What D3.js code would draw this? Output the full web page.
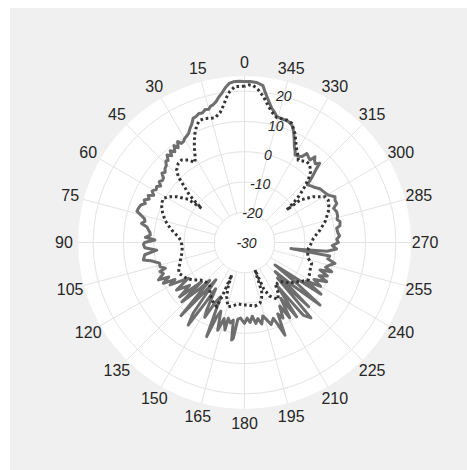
<!DOCTYPE html>
<html>
<head>
<meta charset="utf-8">
<script src="https://cdnjs.cloudflare.com/ajax/libs/d3/7.8.5/d3.min.js"></script>
<style>
  html, body { margin: 0; padding: 0; background: #ffffff; }
  svg { display: block; }
</style>
</head>
<body>
<svg id="chart" width="467" height="470"></svg>
<script>
// Angular tick labels (degrees, counter-clockwise from the top)
const thetaTicks = d3.range(0, 360, 15);
// Radial tick labels (dB)
const rTicks = [-30, -20, -10, 0, 10, 20];
const rLimits = [-30, 25];

// Measured pattern: angle in degrees and gain in dB
const measuredAngle = [
  0, 2, 4, 5.5, 7, 8.5, 10, 11.5, 13, 14, 15, 16.5, 18, 19.5, 21, 22.5, 24, 25.5, 27, 28.5, 30,
  31, 32.5, 33.5, 35, 36, 37.5, 39, 40, 41.5, 43, 44, 45.5, 47, 48.5, 50, 51.5, 53, 54.5, 56, 57.5, 59, 60,
  61, 62.5, 64, 65.5, 67, 68.5, 70, 72, 73.8, 75, 76.5, 78, 79.5, 81, 82.5, 84, 85.5, 87, 88.4, 90,
  91, 93, 95, 97, 99.8, 101, 103.6, 106, 108, 109, 111, 113.5, 114.5, 116.7, 118, 119.7, 122.5,
  125, 128, 130, 132.5, 133.5, 136, 137.5, 139, 141, 142.5, 144, 145.7, 147, 148, 150.8, 152, 154, 156.3, 158.1,
  159.5, 161, 163, 165, 167.4, 167.9, 170, 171.8, 172.5, 173.3, 175, 177, 180,
  182, 184, 186, 188, 190, 192, 194, 196, 198, 200.8, 202, 203.6, 205, 207, 209, 211, 213, 215, 217, 219,
  221.4, 223, 225, 226.5, 228, 230.4, 232, 233.6, 236, 238, 240,
  242, 244.5, 246, 248, 250, 251.5, 253, 255, 257, 259, 261, 262.5, 264, 266, 268, 270,
  272, 274, 276, 278.8, 280, 282.3, 284, 286, 288.5, 291, 292.9, 295, 296.8, 299.5, 301,
  303, 305.5, 308, 310, 312.5, 314, 315.8, 316.5, 318, 319.5, 320.6, 321.6, 323, 325, 326.3, 328, 330,
  331, 332.5, 334.5, 336.5, 338, 340, 343, 345.6, 347, 348.5, 350.5, 352.3, 353.3, 355.6, 358, 360
];
const measuredGain = [
  23.2, 23.3, 23.2, 22.8, 21.6, 20.0, 18.8, 17.4, 16.6, 16.4, 15.6, 15.8, 15.0, 15.2, 14.6, 14.4, 12.8, 11.8, 10.6, 10.0, 9.6,
  9.0, 8.8, 10.0, 8.2, 9.6, 7.8, 9.0, 7.4, 8.6, 7.0, 7.4, 6.2, 5.9, 5.0, 5.6, 4.2, 4.0, 4.6, 3.4, 4.4, 4.0, 4.6,
  4.9, 3.8, 5.4, 4.6, 6.0, 5.2, 6.4, 6.8, 7.0, 5.6, 4.0, 3.6, 4.6, 2.6, 2.0, 1.4, 1.2, 2.8, -0.4, 3.0,
  3.4, 3.0, -0.9, 3.2, 3.9, 1.5, -1.1, -1.0, -2.5, -0.5, -1.3, 1.0, -2.5, 0.0, -4.0, -1.7, -8.0,
  -2.6, -7.0, -2.0, -10.8, -1.5, -9.0, -13.0, 2.0, -9.0, -14.5, -1.1, 3.0, -6.0, -12.0, -4.4, -2.0, -8.0, -10.4, 3.5,
  -3.8, -6.0, 0.3, -4.0, -0.4, -4.4, -3.0, -4.1, 2.5, 1.9, -4.5, -5.0, -3.3,
  -5.0, -3.5, -5.5, -3.0, -4.5, -2.5, -5.0, -3.5, -1.5, -3.2, -1.0, 3.4, -4.0, -2.0, -6.0, -1.0, -8.0, 0.0, -12.0, 1.0,
  3.2, -14.0, 0.0, -16.0, -10.0, 2.4, -8.0, -17.5, 0.5, -6.0, -1.0,
  -4.0, 0.1, -3.0, -0.5, -3.5, 0.4, -2.0, -1.0, 0.7, -2.0, -1.5, -14.5, -2.6, 0.5, -1.0, 1.0,
  0.5, 1.5, 1.0, 0.8, 2.0, 2.3, 1.5, 2.0, 2.1, 1.5, 3.1, 3.0, 3.5, 1.8, 1.4,
  1.0, 0.6, -0.5, -1.0, -1.8, 1.0, 4.2, 6.1, 5.0, 5.6, 6.7, 4.8, 5.2, 5.9, 4.1, 3.6, 3.4,
  4.5, 5.7, 8.1, 10.5, 11.8, 12.5, 12.7, 12.9, 14.2, 15.2, 17.7, 20.3, 22.2, 23.0, 23.2, 23.2
];

// Simulated pattern: angle in degrees and gain in dB
const simulatedAngle = [
  0, 3.5, 5.5, 7, 8.9, 10.7, 13.4, 15.5, 17.6, 20, 22.1, 24.4, 26.5, 28, 29.5, 31.7, 34.3, 37.3, 39.9,
  43.1, 45.2, 46.8, 48.8, 50.3, 51.4, 52.5, 55.9, 58.5, 61.4, 64, 66.6, 70, 74.2, 77, 80.3, 85, 88,
  92.3, 96, 99.8, 104, 107.9, 111, 115, 117.4, 121.8, 126.2, 130.1, 133, 136.8, 140, 142, 145.8, 150.3,
  153, 156.6, 157.6, 158.5, 159.6, 161.8, 163.7, 165.8, 170, 174.2, 178, 183.5, 189.3, 194.3, 197,
  199.3, 200.9, 202.5, 205, 210.4, 213.6, 216.8, 219, 222.2, 225.9, 228.1, 232.2, 234.8, 239.6, 243,
  247.2, 252.8, 256, 260, 264.8, 269, 273.5, 279.4, 284.5, 290.2, 294, 296.9, 299.6, 303.7, 305.5,
  307.4, 307.6, 309.5, 311, 313, 315, 317, 320, 322.4, 326.9, 328, 330.6, 335.2, 338.4, 341, 345.5,
  348.3, 350.9, 352.6, 354.8, 356.8, 358.4, 360
];
const simulatedGain = [
  21.6, 21.6, 20.2, 18.4, 15.6, 13.6, 12.3, 12.6, 13.0, 13.0, 11.9, 9.6, 7.2, 5.2, 3.2, 1.1, 3.0, 4.3, 4.1,
  2.8, 0.8, -2.3, -5.3, -8.5, -11.9, -6.5, -3.0, -1.0, 0.5, 0.3, -0.2, -1.2, -2.7, -4.0, -5.6, -8.0, -8.9,
  -9.3, -9.3, -9.0, -8.3, -7.6, -6.8, -6.0, -6.6, -7.5, -9.0, -10.8, -11.5, -11.8, -11.7, -11.5, -9.7, -8.3,
  -7.5, -6.9, -11.5, -18.5, -14.5, -11.2, -9.6, -8.1, -8.8, -9.6, -9.4, -9.3, -8.7, -9.3, -10.7,
  -12.8, -20.3, -13.5, -10.5, -8.2, -9.8, -13.2, -12.6, -12.5, -11.4, -9.8, -8.9, -7.5, -5.6, -6.0,
  -6.5, -6.8, -8.3, -8.8, -8.8, -8.0, -7.2, -4.7, -2.5, -0.5, 0.5, 1.0, 0.6, -2.7, -5.0,
  -6.9, -12.4, -8.0, -5.5, -2.6, 0.0, 2.0, 3.5, 3.7, 2.5, 3.5, 5.1, 9.7, 12.4, 12.8, 12.6,
  14.1, 16.6, 18.6, 20.6, 21.9, 22.1, 21.6
];

const width = 467, height = 470;
const cx = 244.5, cy = 242.5, outerR = 166.5;

const svg = d3.select("#chart");

// Figure background
svg.append("rect").attr("x", 10).attr("y", 8)
  .attr("width", width - 10).attr("height", height - 8)
  .attr("fill", "#f0f0f0");

const g = svg.append("g").attr("transform", `translate(${cx},${cy})`);

const r = d3.scaleLinear().domain(rLimits).range([0, outerR]);
// counter-clockwise angles, zero at the top
const theta = d3.scaleLinear().domain([0, 360]).range([0, -2 * Math.PI]);

// Polar axes disc
g.append("circle").attr("r", outerR).attr("fill", "#ffffff");

// Spokes every 15 degrees, starting at the first ring
const gridColor = "#e3e3e3";
g.selectAll("line.spoke").data(thetaTicks).join("line")
  .attr("class", "spoke")
  .attr("x1", d => r(-20) * Math.sin(theta(d)))
  .attr("y1", d => -r(-20) * Math.cos(theta(d)))
  .attr("x2", d => outerR * Math.sin(theta(d)))
  .attr("y2", d => -outerR * Math.cos(theta(d)))
  .attr("stroke", gridColor).attr("stroke-width", 1);

// Rings
g.selectAll("circle.ring").data(rTicks.filter(d => d > rLimits[0])).join("circle")
  .attr("class", "ring")
  .attr("r", d => r(d))
  .attr("fill", "none").attr("stroke", gridColor).attr("stroke-width", 1);

// Angular labels
const labelR = 180.5;
g.selectAll("text.tlabel").data(thetaTicks).join("text")
  .attr("class", "tlabel")
  .attr("x", d => labelR * Math.sin(theta(d)))
  .attr("y", d => -labelR * Math.cos(theta(d)))
  .attr("text-anchor", "middle").attr("dominant-baseline", "central")
  .attr("font-family", "Liberation Sans, Arial, sans-serif")
  .attr("font-size", 16).attr("fill", "#262626")
  .text(d => d);

// Radial labels along the 345 degree direction (beneath the traces)
const rLabelAngle = theta(345);
g.selectAll("text.rlabel").data(rTicks).join("text")
  .attr("class", "rlabel")
  .attr("x", d => r(d) * Math.sin(rLabelAngle) + (d === -30 ? 2 : 0))
  .attr("y", d => -r(d) * Math.cos(rLabelAngle))
  .attr("text-anchor", "middle").attr("dominant-baseline", "central")
  .attr("font-family", "Liberation Sans, Arial, sans-serif")
  .attr("font-style", "italic")
  .attr("font-size", 14).attr("fill", "#262626")
  .text(d => d);

// Traces
const line = d3.lineRadial()
  .angle(d => theta(d[0]))
  .radius(d => r(d[1]))
  .curve(d3.curveLinear);

const measured = measuredAngle.map((a, i) => [a, measuredGain[i]]);
const simulated = simulatedAngle.map((a, i) => [a, simulatedGain[i]]);

g.append("path").datum(measured)
  .attr("d", line)
  .attr("fill", "none").attr("stroke", "#6e6e6e")
  .attr("stroke-width", 3).attr("stroke-linejoin", "round");

g.append("path").datum(simulated)
  .attr("d", line)
  .attr("fill", "none").attr("stroke", "#333333")
  .attr("stroke-width", 3).attr("stroke-dasharray", "2.6,2.8");
</script>
</body>
</html>
